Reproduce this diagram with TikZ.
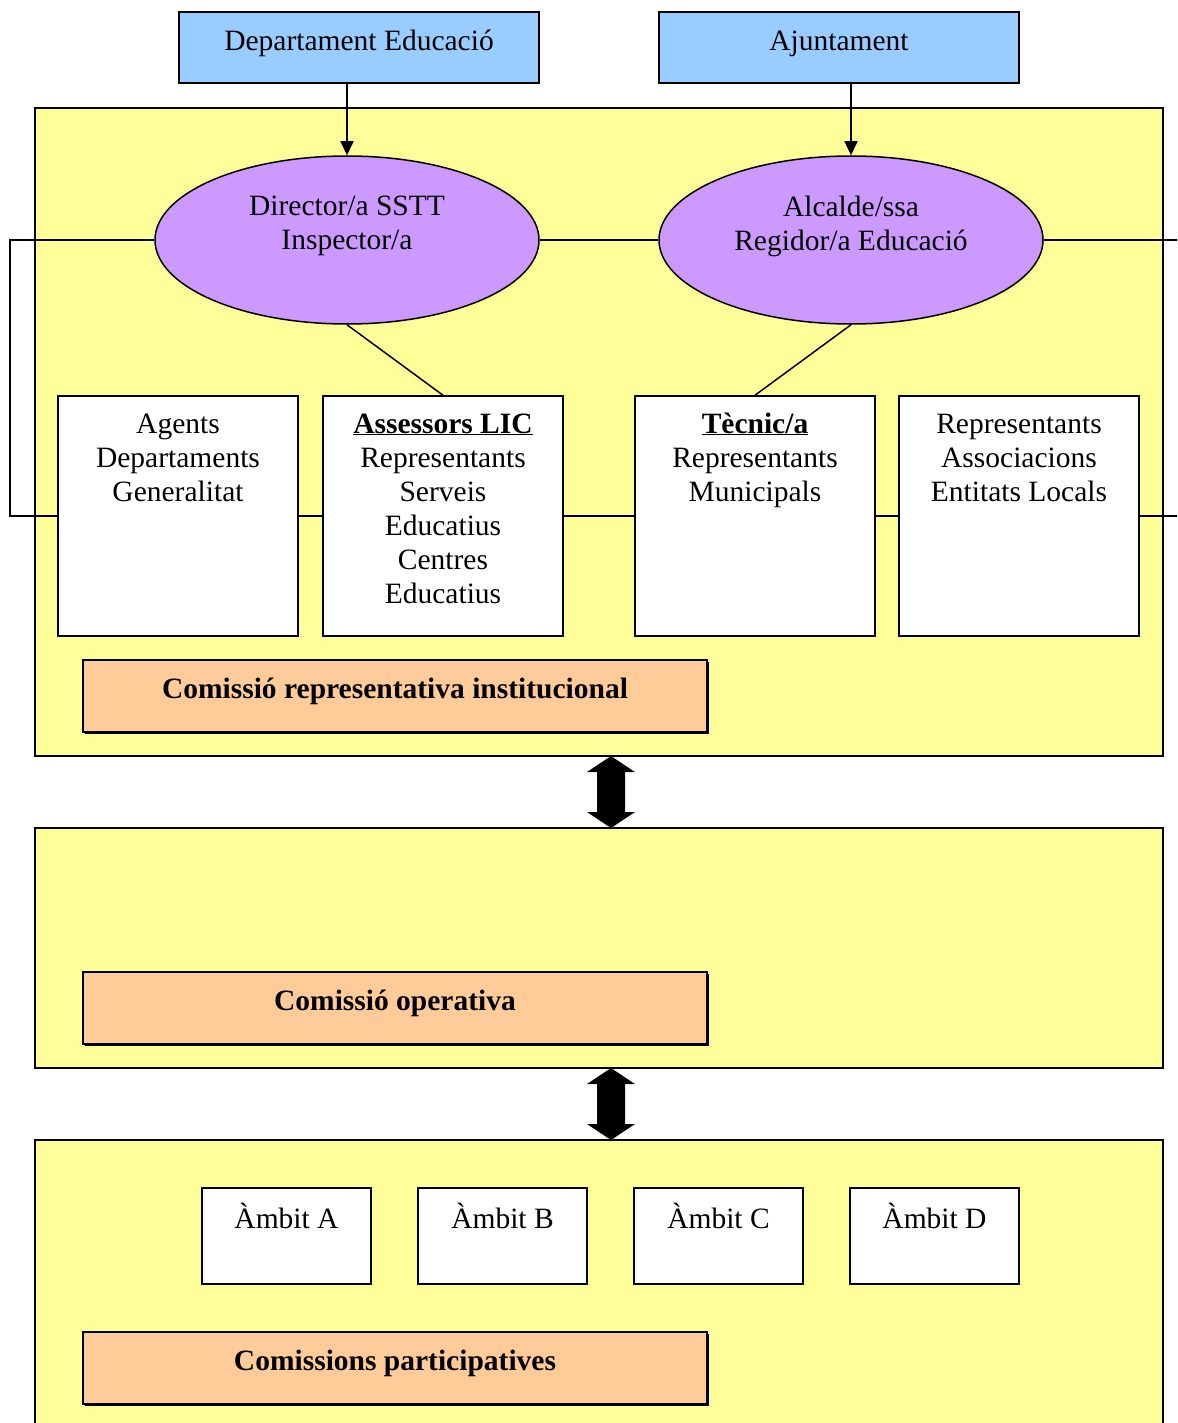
\documentclass[tikz,border=0pt]{standalone}
\usepackage{fontspec}
\setmainfont{Liberation Serif}
\usetikzlibrary{arrows.meta,shapes.geometric,shadows}
\definecolor{ylw}{HTML}{FFFF99}
\definecolor{blu}{HTML}{99CCFF}
\definecolor{prp}{HTML}{CC99FF}
\definecolor{org}{HTML}{FFCC99}
\tikzset{
  panel/.style={draw, fill=ylw, minimum width=1128, inner sep=0},
  topbox/.style={draw, fill=blu, minimum width=360, minimum height=71, inner sep=0, text height=20pt, text depth=13pt},
  role/.style={draw, ellipse, fill=prp, minimum width=384, minimum height=168, inner sep=0, align=center},
  member/.style={draw, fill=white, minimum width=240, minimum height=240, inner sep=0},
  ambit/.style={draw, fill=white, minimum width=169, minimum height=96, inner sep=0},
  commission/.style={draw, fill=org, minimum width=624, minimum height=72, inner sep=0, text height=20pt, text depth=15pt,
    font=\fontsize{29.5}{34}\selectfont\bfseries,
    drop shadow={shadow xshift=1.5pt, shadow yshift=-1.5pt, fill=black, opacity=1}},
  link/.style={line width=1.5pt}
}
\newcommand{\boxtext}[3]{\parbox[c][#1pt][t]{#2pt}{\centering\rule{0pt}{37pt}#3}}
\newcommand{\ambtext}[1]{\parbox[c][96pt][t]{165pt}{\centering\rule{0pt}{40pt}#1}}
\begin{document}
\begin{tikzpicture}[x=1pt, y=-1pt, line width=1.5pt, font=\fontsize{29.5}{34}\selectfont]
\clip (0,0) rectangle (1177,1423);
\fill[white] (0,0) rectangle (1177,1423);

% panels
\node[panel, minimum height=648] (p1) at (599,432) {};
\node[panel, minimum height=240] (p2) at (599,948) {};
\node[panel, minimum height=320] (p3) at (599,1300) {};

% top boxes
\node[topbox] (tb1) at (359,47.5) {Departament Educació};
\node[topbox] (tb2) at (839,47.5) {Ajuntament};

% ellipses
\node[role] (e1) at (347,240) {Director/a SSTT\\Inspector/a\\\mbox{}};
\node[role] (e2) at (851,240) {Alcalde/ssa\\Regidor/a Educació\\\mbox{}};

\draw[link,-{Triangle[length=14pt,width=13pt]}] (tb1.south -| e1.north) -- (e1.north);
\draw[link,-{Triangle[length=14pt,width=13pt]}] (tb2.south -| e2.north) -- (e2.north);

% member boxes
\node[member] (b1) at (178,516) {\boxtext{240}{236}{Agents\\Departaments\\Generalitat}};
\node[member] (b2) at (443,516) {\boxtext{240}{236}{\textbf{\underline{Assessors LIC}}\\Representants\\Serveis\\Educatius\\Centres\\Educatius}};
\node[member] (b3) at (755,516) {\boxtext{240}{236}{\textbf{\underline{Tècnic/a}}\\Representants\\Municipals}};
\node[member] (b4) at (1019,516) {\boxtext{240}{236}{Representants\\Associacions\\Entitats Locals}};

\coordinate (cl) at (10,0);
\coordinate (cr) at (1185,0);

\draw[link] (e1.east) -- (e2.west);
\draw[link] (e1.south) -- (b2.north);
\draw[link] (e2.south) -- (b3.north);
\draw[link] (b1.east) -- (b2.west);
\draw[link] (b2.east) -- (b3.west);
\draw[link] (b3.east) -- (b4.west);
\draw[link] (e1.west) -- (e1.west -| cl) -- (b1.west -| cl) -- (b1.west);
\draw[link] (e2.east) -- (e2.east -| cr);
\draw[link] (b4.east) -- (b4.east -| cr);

% commissions
\node[commission] (o1) at (395,696) {Comissió representativa institucional};
\node[commission] (o2) at (395,1008) {Comissió operativa};
\node[commission] (o3) at (395,1368) {Comissions participatives};

% ambits
\node[ambit] (a1) at (286.5,1236) {\ambtext{Àmbit A}};
\node[ambit] (a2) at (502.5,1236) {\ambtext{Àmbit B}};
\node[ambit] (a3) at (718.5,1236) {\ambtext{Àmbit C}};
\node[ambit] (a4) at (934.5,1236) {\ambtext{Àmbit D}};

% double arrows between panels
\foreach \top/\bot in {756/828, 1068/1140}{
  \fill[black] (611,\top) -- (635,\top+16) -- (625,\top+16) -- (625,\bot-16) -- (635,\bot-16)
    -- (611,\bot) -- (587,\bot-16) -- (597,\bot-16) -- (597,\top+16) -- (587,\top+16) -- cycle;
}
\end{tikzpicture}
\end{document}
